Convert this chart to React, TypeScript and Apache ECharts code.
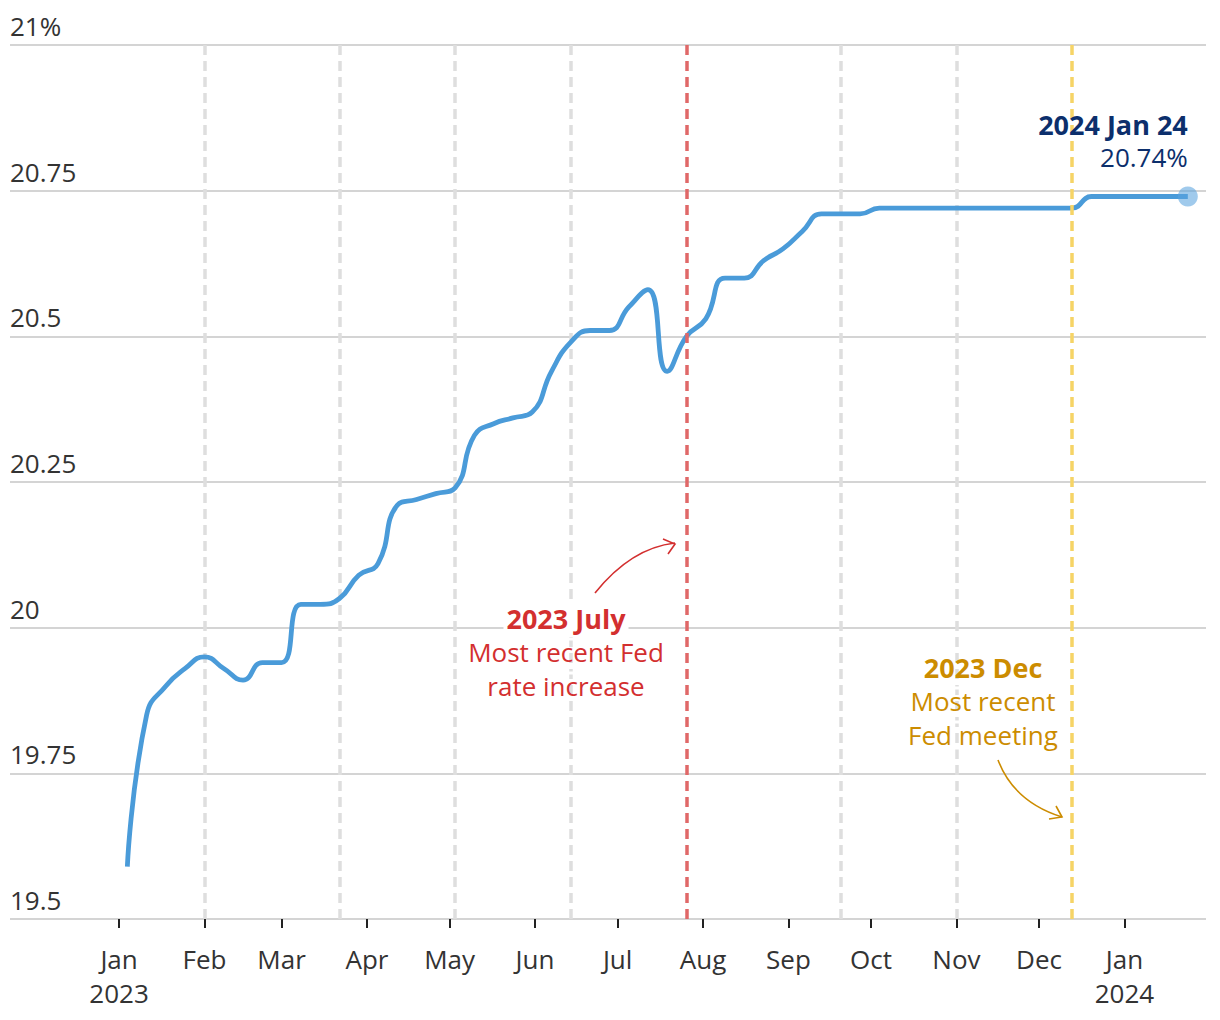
import React, { useEffect, useRef } from 'react';
import * as echarts from 'echarts';

const DAY = 86400000;
const toTs = (s: string) => {
  const [y, m, d] = s.split('-').map(Number);
  return Date.UTC(y, m - 1, d);
};

// Weekly observation dates
const weekDates = [
  '2023-01-04', '2023-01-11', '2023-01-18', '2023-01-25',
  '2023-02-01', '2023-02-08', '2023-02-15', '2023-02-22',
  '2023-03-01', '2023-03-08', '2023-03-15', '2023-03-22', '2023-03-29',
  '2023-04-05', '2023-04-12', '2023-04-19', '2023-04-26',
  '2023-05-03', '2023-05-10', '2023-05-17', '2023-05-24', '2023-05-31',
  '2023-06-07', '2023-06-14', '2023-06-21', '2023-06-28',
  '2023-07-05', '2023-07-12', '2023-07-19', '2023-07-26',
  '2023-08-02', '2023-08-09', '2023-08-16', '2023-08-23', '2023-08-30',
  '2023-09-06', '2023-09-13', '2023-09-20', '2023-09-27',
  '2023-10-04', '2023-10-11', '2023-10-18', '2023-10-25',
  '2023-11-01', '2023-11-08', '2023-11-15', '2023-11-22', '2023-11-29',
  '2023-12-06', '2023-12-13', '2023-12-20', '2023-12-27',
  '2024-01-03', '2024-01-10', '2024-01-17', '2024-01-24',
];

// Average rate (%)
const rateValues = [
  19.59, 19.85, 19.9, 19.93,
  19.95, 19.93, 19.91, 19.94,
  19.94, 20.04, 20.04, 20.05, 20.09,
  20.11, 20.21, 20.22, 20.23,
  20.24, 20.33, 20.35, 20.36, 20.37,
  20.44, 20.49, 20.51, 20.51,
  20.55, 20.58, 20.44, 20.5,
  20.53, 20.6, 20.6, 20.63, 20.65,
  20.68, 20.71, 20.71, 20.71,
  20.72, 20.72, 20.72, 20.72,
  20.72, 20.72, 20.72, 20.72, 20.72,
  20.72, 20.72, 20.74, 20.74,
  20.74, 20.74, 20.74, 20.74,
];

const monthTicks = [
  '2023-01-01', '2023-02-01', '2023-03-01', '2023-04-01', '2023-05-01',
  '2023-06-01', '2023-07-01', '2023-08-01', '2023-09-01', '2023-10-01',
  '2023-11-01', '2023-12-01', '2024-01-01',
];
const monthLabels = [
  'Jan\n2023', 'Feb', 'Mar', 'Apr', 'May', 'Jun', 'Jul', 'Aug', 'Sep', 'Oct',
  'Nov', 'Dec', 'Jan\n2024',
];

const yMin = 19.5;
const yMax = 21;
const yStep = 0.25;
const yTopLabel = '21%';

const fedMeetings = [
  '2023-02-01', '2023-03-22', '2023-05-03', '2023-06-14',
  '2023-07-26', '2023-09-20', '2023-11-01', '2023-12-13',
];
const fedMeetingKinds = ['plain', 'plain', 'plain', 'plain', 'hike', 'plain', 'plain', 'latest'];

const endTitle = '2024 Jan 24';
const endValueText = '20.74%';

const hikeTitle = '2023 July';
const hikeLines = ['Most recent Fed', 'rate increase'];
const latestTitle = '2023 Dec';
const latestLines = ['Most recent', 'Fed meeting'];

const FONT = 'Open Sans';
const FS = 26;
const FSB = 27;
const BLUE = '#4a9bd9';
const NAVY = '#0c2f6c';
const RED = '#d32f2f';
const GOLD = '#cc8c00';

export default function App() {
  const ref = useRef<HTMLDivElement>(null);

  useEffect(() => {
    if (!ref.current) return;
    const chart = echarts.init(ref.current, undefined, { renderer: 'svg' });

    const jan1 = toTs('2023-01-01');
    const labelMap = new Map<number, string>();
    monthTicks.forEach((d, i) => labelMap.set(toTs(d), monthLabels[i]));
    const tickValues = monthTicks.map(toTs);

    const seriesData = rateValues.map((v, i) => [toTs(weekDates[i]), v]);
    const last = seriesData[seriesData.length - 1];

    const dash = [10, 6];
    const plainLines = fedMeetings
      .map((d, i) => ({ d, k: fedMeetingKinds[i] }))
      .filter((m) => m.k === 'plain')
      .map((m) => ({ xAxis: toTs(m.d), lineStyle: { color: '#dedede', width: 3.5, type: dash } }));
    const colorLines = fedMeetings
      .map((d, i) => ({ d, k: fedMeetingKinds[i] }))
      .filter((m) => m.k !== 'plain')
      .map((m) => ({
        xAxis: toTs(m.d),
        lineStyle: { color: m.k === 'hike' ? '#e06868' : '#f6d466', width: 3.5, type: dash },
      }));

    const staticGraphics: any[] = [
      {
        id: 'hikeText',
        type: 'text',
        x: 566,
        y: 601,
        z: 100,
        style: {
          text: `{t|${hikeTitle}}\n{b|${hikeLines[0]}}\n{b|${hikeLines[1]}}`,
          align: 'center',
          verticalAlign: 'top',
          rich: {
            t: { fontFamily: FONT, fontSize: FSB, fontWeight: 'bold', fill: RED, lineHeight: 34, backgroundColor: '#fff', padding: [0, 3] },
            b: { fontFamily: FONT, fontSize: FS, fill: RED, lineHeight: 34, textBorderColor: '#fff', textBorderWidth: 3 },
          },
        },
      },
      {
        id: 'latestText',
        type: 'text',
        x: 983,
        y: 650,
        z: 100,
        style: {
          text: `{t|${latestTitle}}\n{b|${latestLines[0]}}\n{b|${latestLines[1]}}`,
          align: 'center',
          verticalAlign: 'top',
          rich: {
            t: { fontFamily: FONT, fontSize: FSB, fontWeight: 'bold', fill: GOLD, lineHeight: 34 },
            b: { fontFamily: FONT, fontSize: FS, fill: GOLD, lineHeight: 34, textBorderColor: '#fff', textBorderWidth: 3 },
          },
        },
      },
      {
        id: 'hikeArrow',
        type: 'bezierCurve',
        z: 100,
        shape: { x1: 595, y1: 593, x2: 675, y2: 543, cpx1: 631, cpy1: 548 },
        style: { stroke: RED, lineWidth: 1.6, fill: null },
      },
      {
        id: 'hikeHead',
        type: 'polyline',
        z: 100,
        shape: { points: [[663, 539], [675, 544], [668, 554]] },
        style: { stroke: RED, lineWidth: 1.6, fill: null },
      },
      {
        id: 'latestArrow',
        type: 'bezierCurve',
        z: 100,
        shape: { x1: 998, y1: 760, x2: 1062, y2: 817, cpx1: 1014, cpy1: 802 },
        style: { stroke: GOLD, lineWidth: 1.6, fill: null },
      },
      {
        id: 'latestHead',
        type: 'polyline',
        z: 100,
        shape: { points: [[1049, 819], [1062, 817], [1056, 806]] },
        style: { stroke: GOLD, lineWidth: 1.6, fill: null },
      },
    ];

    const option: any = {
      animation: false,
      backgroundColor: '#ffffff',
      textStyle: { fontFamily: FONT },
      grid: { left: 10, right: 14, top: 45, bottom: 101, containLabel: false },
      xAxis: {
        type: 'value',
        min: jan1 - 39.6 * DAY,
        max: jan1 + 394.6 * DAY,
        axisLine: { show: false },
        splitLine: { show: false },
        axisTick: {
          show: true,
          customValues: tickValues,
          length: 9,
          lineStyle: { color: '#222', width: 2 },
        },
        axisLabel: {
          show: true,
          customValues: tickValues,
          formatter: (v: number) => labelMap.get(v) ?? '',
          fontFamily: FONT,
          fontSize: FS,
          color: '#333',
          lineHeight: 34,
          margin: 23,
        },
      },
      yAxis: {
        type: 'value',
        min: yMin,
        max: yMax,
        interval: yStep,
        axisLine: { show: false },
        axisTick: { show: false },
        splitLine: { show: true, lineStyle: { color: '#d4d4d4', width: 2 } },
        axisLabel: {
          inside: true,
          margin: 0,
          align: 'left',
          verticalAlign: 'bottom',
          fontFamily: FONT,
          fontSize: FS,
          lineHeight: 26,
          padding: [0, 0, 6, 0],
          color: '#333',
          formatter: (v: number) => (Math.abs(v - yMax) < 1e-9 ? yTopLabel : String(v)),
        },
      },
      series: [
        {
          type: 'line',
          name: 'meetings',
          data: [],
          z: 1,
          markLine: {
            silent: true,
            symbol: ['none', 'none'],
            label: { show: false },
            z: 1,
            data: plainLines,
          },
        },
        {
          type: 'line',
          data: seriesData,
          smooth: 0.5,
          showSymbol: false,
          symbol: 'none',
          lineStyle: { color: BLUE, width: 4.8 },
          z: 2,
          markLine: {
            silent: true,
            symbol: ['none', 'none'],
            label: { show: false },
            z: 5,
            data: colorLines,
          },
        },
        {
          type: 'scatter',
          data: [last],
          symbolSize: 20,
          itemStyle: { color: 'rgba(90,163,222,0.72)' },
          z: 6,
          silent: true,
        },
      ],
      graphic: staticGraphics,
    };

    chart.setOption(option);

    const [px, py] = chart.convertToPixel({ gridIndex: 0 }, last) as number[];
    chart.setOption({
      graphic: [
        ...staticGraphics,
        {
          id: 'endLabel',
          type: 'text',
          x: px,
          y: py - 22.5,
          z: 100,
          style: {
            text: `{t|${endTitle}}\n{v|${endValueText}}`,
            align: 'right',
            verticalAlign: 'bottom',
            rich: {
              t: { fontFamily: FONT, fontSize: FSB, fontWeight: 'bold', fill: NAVY, lineHeight: 33, align: 'right' },
              v: { fontFamily: FONT, fontSize: FS, fill: NAVY, lineHeight: 33, align: 'right' },
            },
          },
        },
      ],
    });

    return () => chart.dispose();
  }, []);

  return (
    <div
      ref={ref}
      style={{ position: 'fixed', left: 0, top: 0, width: 1220, height: 1020, background: '#fff' }}
    />
  );
}
